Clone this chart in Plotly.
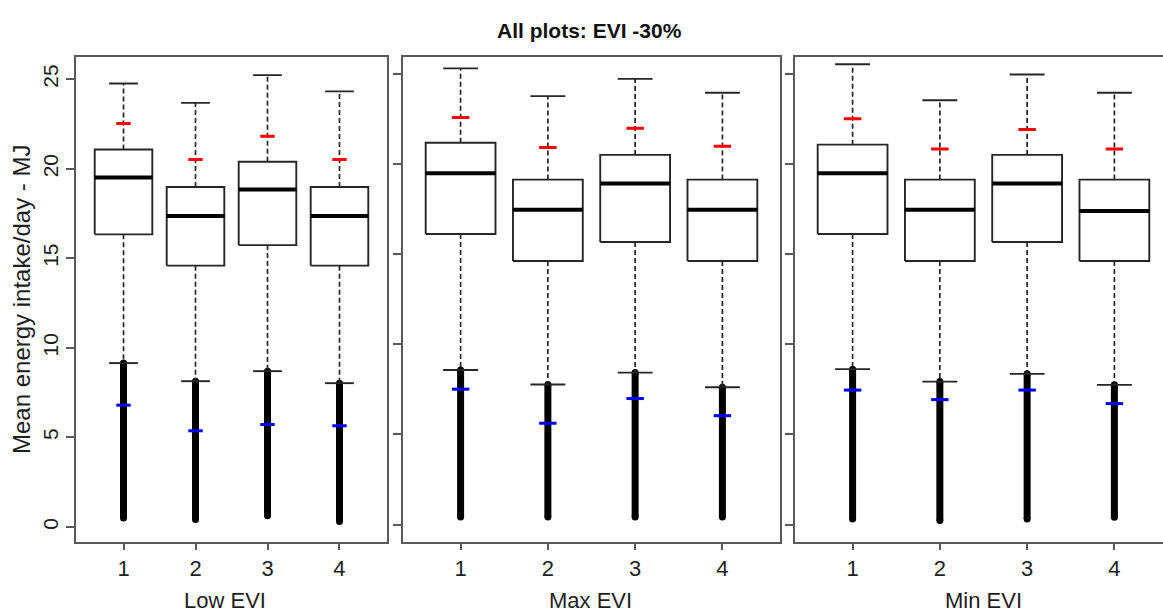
import plotly.graph_objects as go

# ---------------- data ----------------
groups = [1, 2, 3, 4]
panel_names = ["Low EVI", "Max EVI", "Min EVI"]
title_text = "All plots: EVI -30%"
y_title = "Mean energy intake/day - MJ"
y_ticks = [0, 5, 10, 15, 20, 25]

low_upper = [24.76, 23.68, 25.23, 24.32]
low_q3 = [21.08, 18.98, 20.39, 18.98]
low_median = [19.52, 17.36, 18.85, 17.36]
low_q1 = [16.34, 14.59, 15.74, 14.59]
low_lower = [9.15, 8.14, 8.70, 8.03]
low_p95 = [22.53, 20.52, 21.82, 20.52]
low_p5 = [6.80, 5.37, 5.72, 5.65]
low_outmin = [0.50, 0.41, 0.63, 0.30]

max_upper = [25.31, 23.77, 24.73, 23.96]
max_q3 = [21.18, 19.14, 20.51, 19.14]
max_median = [19.49, 17.47, 18.92, 17.47]
max_q1 = [16.12, 14.62, 15.68, 14.62]
max_lower = [8.57, 7.77, 8.43, 7.62]
max_p95 = [22.58, 20.92, 21.99, 20.99]
max_p5 = [7.51, 5.62, 6.99, 6.04]
max_outmin = [0.42, 0.42, 0.42, 0.42]

min_upper = [25.54, 23.54, 24.97, 23.96]
min_q3 = [21.08, 19.14, 20.51, 19.14]
min_median = [19.49, 17.47, 18.92, 17.40]
min_q1 = [16.12, 14.62, 15.68, 14.62]
min_lower = [8.62, 7.93, 8.36, 7.75]
min_p95 = [22.51, 20.84, 21.92, 20.84]
min_p5 = [7.46, 6.93, 7.46, 6.71]
min_outmin = [0.30, 0.22, 0.30, 0.40]

panels = [
    dict(upper=low_upper, q3=low_q3, median=low_median, q1=low_q1, lower=low_lower,
         p95=low_p95, p5=low_p5, outmin=low_outmin),
    dict(upper=max_upper, q3=max_q3, median=max_median, q1=max_q1, lower=max_lower,
         p95=max_p95, p5=max_p5, outmin=max_outmin),
    dict(upper=min_upper, q3=min_q3, median=min_median, q1=min_q1, lower=min_lower,
         p95=min_p95, p5=min_p5, outmin=min_outmin),
]

# ---------------- layout geometry ----------------
W, H = 1163, 614
x_domains = [[76 / W, 387 / W], [403 / W, 780 / W], [795 / W, 1.0]]
x_ranges = [[0.34, 4.66], [0.34, 4.66], [0.34, 4.557]]
y_ranges = [[-0.84, 26.27], [-0.97, 25.97], [-0.97, 25.97]]
y_domain = [1 - 542 / H, 1 - 56.5 / H]

BOX_HALF = 0.4
CAP_HALF = 0.2
MARK_HALF = 0.1
FONT = "Liberation Sans, Arial, sans-serif"
LINE_COL = "#262626"
FRAME_COL = "#5a5a5a"
TEXT_COL = "#1e1e1e"

fig = go.Figure()


def segs_h(xs, ys, half):
    X, Y = [], []
    for x, y in zip(xs, ys):
        X += [x - half, x + half, None]
        Y += [y, y, None]
    return X, Y


for p, d in enumerate(panels):
    xa = "x" if p == 0 else f"x{p + 1}"
    ya = "y" if p == 0 else f"y{p + 1}"

    # outliers (dense columns of points below lower whisker)
    X, Y = [], []
    for x, lo, om in zip(groups, d["lower"], d["outmin"]):
        X += [x, x, None]
        Y += [om, lo, None]
    fig.add_trace(go.Scatter(x=X, y=Y, mode="lines+markers", xaxis=xa, yaxis=ya,
                             line=dict(color="black", width=7),
                             marker=dict(color="black", size=7),
                             showlegend=False, hoverinfo="skip"))

    # dashed whiskers
    X, Y = [], []
    for x, q1, q3, lo, up in zip(groups, d["q1"], d["q3"], d["lower"], d["upper"]):
        X += [x, x, None, x, x, None]
        Y += [q3, up, None, q1, lo, None]
    fig.add_trace(go.Scatter(x=X, y=Y, mode="lines", xaxis=xa, yaxis=ya,
                             line=dict(color=LINE_COL, width=1.7, dash="5px,3px"),
                             showlegend=False, hoverinfo="skip"))

    # whisker caps
    X1, Y1 = segs_h(groups, d["upper"], CAP_HALF)
    X2, Y2 = segs_h(groups, d["lower"], CAP_HALF)
    fig.add_trace(go.Scatter(x=X1 + X2, y=Y1 + Y2, mode="lines", xaxis=xa, yaxis=ya,
                             line=dict(color=LINE_COL, width=1.9),
                             showlegend=False, hoverinfo="skip"))

    # boxes
    X, Y = [], []
    for x, q1, q3 in zip(groups, d["q1"], d["q3"]):
        X += [x - BOX_HALF, x + BOX_HALF, x + BOX_HALF, x - BOX_HALF, x - BOX_HALF, None]
        Y += [q1, q1, q3, q3, q1, None]
    fig.add_trace(go.Scatter(x=X, y=Y, mode="lines", xaxis=xa, yaxis=ya,
                             fill="toself", fillcolor="white",
                             line=dict(color=LINE_COL, width=1.9),
                             showlegend=False, hoverinfo="skip"))

    # medians
    X, Y = segs_h(groups, d["median"], BOX_HALF)
    fig.add_trace(go.Scatter(x=X, y=Y, mode="lines", xaxis=xa, yaxis=ya,
                             line=dict(color="black", width=4),
                             showlegend=False, hoverinfo="skip"))

    # red (upper) and blue (lower) marks
    X, Y = segs_h(groups, d["p95"], MARK_HALF)
    fig.add_trace(go.Scatter(x=X, y=Y, mode="lines", xaxis=xa, yaxis=ya,
                             line=dict(color="#ff0000", width=3),
                             showlegend=False, hoverinfo="skip"))
    X, Y = segs_h(groups, d["p5"], MARK_HALF)
    fig.add_trace(go.Scatter(x=X, y=Y, mode="lines", xaxis=xa, yaxis=ya,
                             line=dict(color="#0000ff", width=3),
                             showlegend=False, hoverinfo="skip"))

layout = dict(
    width=W, height=H,
    margin=dict(l=0, r=0, t=0, b=0),
    paper_bgcolor="white", plot_bgcolor="white",
    font=dict(family=FONT, color=TEXT_COL),
    showlegend=False,
)

for p in range(3):
    xk = "xaxis" if p == 0 else f"xaxis{p + 1}"
    yk = "yaxis" if p == 0 else f"yaxis{p + 1}"
    layout[xk] = dict(
        domain=x_domains[p], range=x_ranges[p], anchor="y" if p == 0 else f"y{p + 1}",
        tickmode="array", tickvals=groups, ticktext=[str(g) for g in groups],
        ticks="outside", ticklen=6, tickwidth=1.5, tickcolor=FRAME_COL,
        showline=True, linecolor=FRAME_COL, linewidth=2, mirror=True,
        showgrid=False, zeroline=False, fixedrange=True,
        tickfont=dict(size=22, family=FONT, color=TEXT_COL),
    )
    layout[yk] = dict(
        domain=y_domain, range=y_ranges[p], anchor="x" if p == 0 else f"x{p + 1}",
        tickmode="array", tickvals=y_ticks, ticktext=[str(t) for t in y_ticks],
        ticks="outside", ticklen=8, tickwidth=1.5, tickcolor=FRAME_COL,
        showline=True, linecolor=FRAME_COL, linewidth=2, mirror=(p < 2),
        showgrid=False, zeroline=False, fixedrange=True,
        showticklabels=(p == 0), tickangle=-90,
        tickfont=dict(size=21, family=FONT, color=TEXT_COL),
    )

fig.update_layout(**layout)

annotations = [
    dict(text=f"<b>{title_text}</b>", x=589 / W, y=1 - 30 / H, xref="paper", yref="paper",
         showarrow=False, xanchor="center", yanchor="middle",
         font=dict(size=21, family=FONT, color="#111111")),
    dict(text=y_title, x=21 / W, y=1 - 300 / H, xref="paper", yref="paper",
         showarrow=False, xanchor="center", yanchor="middle", textangle=-90,
         font=dict(size=24, family=FONT, color=TEXT_COL)),
]
centers = [225, 590, 983]
for name, cx in zip(panel_names, centers):
    annotations.append(dict(text=name, x=cx / W, y=1 - 600 / H, xref="paper", yref="paper",
                            showarrow=False, xanchor="center", yanchor="middle",
                            font=dict(size=22, family=FONT, color=TEXT_COL)))
fig.update_layout(annotations=annotations)

fig.write_html("out.html")
